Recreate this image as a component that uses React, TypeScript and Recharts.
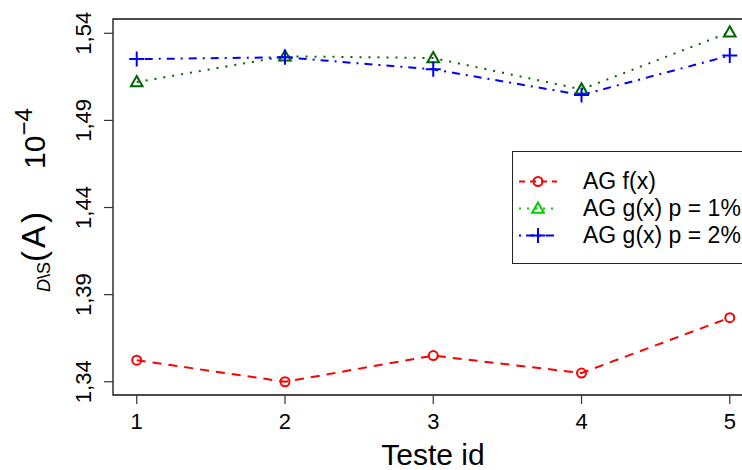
import React from 'react';
import {
  LineChart, Line, XAxis, YAxis, Legend, ReferenceArea,
} from 'recharts';

// Teste id vs DIS(A) (x 10^-4)
const testIds = [1, 2, 3, 4, 5];
const agF = [1.3524, 1.3400, 1.3550, 1.3450, 1.3768];
const agG1 = [1.5120, 1.5268, 1.5258, 1.5078, 1.5406];
const agG2 = [1.5252, 1.5262, 1.5193, 1.5046, 1.5272];
const yTicks = [1.34, 1.39, 1.44, 1.49, 1.54];

const X_DOMAIN: [number, number] = [0.84, 5.16];
const Y_DOMAIN: [number, number] = [1.3324, 1.5482];

const data = testIds.map((id, i) => ({
  id, f: agF[i], g1: agG1[i], g2: agG2[i],
}));

const FONT = '"Liberation Sans", Arial, Helvetica, sans-serif';
const RED = '#ff0000';
const DARKGREEN = '#006400';
const GREEN = '#00cd00';
const BLUE = '#0000ff';

const circle = (cx: number, cy: number, color: string, key?: string | number) => (
  <circle key={key} cx={cx} cy={cy} r={4.5} fill="none" stroke={color} strokeWidth={2} />
);
const triangle = (cx: number, cy: number, color: string, key?: string | number) => (
  <polygon
    key={key}
    points={`${cx - 5.8},${cy + 4.2} ${cx + 5.8},${cy + 4.2} ${cx},${cy - 6}`}
    fill="none" stroke={color} strokeWidth={2}
  />
);
const plus = (cx: number, cy: number, color: string, key?: string | number) => (
  <path key={key} d={`M${cx - 7.5},${cy}H${cx + 7.5}M${cx},${cy - 7.5}V${cy + 7.5}`} stroke={color} strokeWidth={2} />
);

const legendItems = [
  { label: 'AG f(x)', color: RED, dash: '6 5', mark: circle },
  { label: 'AG g(x) p = 1%', color: GREEN, dash: '2 6', mark: triangle },
  { label: 'AG g(x) p = 2%', color: BLUE, dash: '2 5 8 5', mark: plus },
];

const YTick = (props: any) => {
  const { x, y, payload } = props;
  return (
    <text
      transform={`translate(${x - 11},${y}) rotate(-90)`}
      textAnchor="middle" fontFamily={FONT} fontSize={22} fill="#000"
    >
      {String(payload.value.toFixed(2)).replace('.', ',')}
    </text>
  );
};

const XTick = (props: any) => {
  const { x, y, payload } = props;
  return (
    <text x={x} y={y + 23} textAnchor="middle" fontFamily={FONT} fontSize={22} fill="#000">
      {payload.value}
    </text>
  );
};

const LegendBox = () => (
  <div style={{
    boxSizing: 'border-box', width: 250, height: 113, border: '1px solid #222',
    background: '#fff', paddingTop: 16, fontFamily: FONT, fontSize: 23, color: '#000',
  }}>
    {legendItems.map((it) => (
      <div key={it.label} style={{ display: 'flex', alignItems: 'center', height: 27, whiteSpace: 'nowrap' }}>
        <svg width={64} height={27} style={{ marginLeft: 4, flex: 'none' }}>
          <line x1={2} y1={13.5} x2={40} y2={13.5} stroke={it.color} strokeWidth={2} strokeDasharray={it.dash} />
          {it.mark(21, 13.5, it.color)}
        </svg>
        <span style={{ marginLeft: 2 }}>{it.label}</span>
      </div>
    ))}
  </div>
);

export default function App() {
  return (
    <div style={{ position: 'absolute', left: 0, top: 0, width: 742, height: 470, background: '#fff' }}>
      <LineChart
        width={742}
        height={470}
        data={data}
        margin={{ top: 19, right: -11.5, bottom: 0, left: 0 }}
      >
        <XAxis
          dataKey="id" type="number" domain={X_DOMAIN} ticks={testIds}
          allowDataOverflow height={75} axisLine={false}
          tickSize={9} tickLine={{ stroke: '#333', strokeWidth: 1.2 }} tick={<XTick />}
          label={{
            content: () => (
              <text x={433} y={465} textAnchor="middle" fontFamily={FONT} fontSize={30} fill="#000">
                Teste id
              </text>
            ),
          }}
        />
        <YAxis
          type="number" domain={Y_DOMAIN} ticks={yTicks} allowDataOverflow
          width={113} axisLine={false}
          tickSize={9} tickLine={{ stroke: '#333', strokeWidth: 1.2 }} tick={<YTick />}
          label={{
            content: () => (
              <text
                transform="translate(45,292) rotate(-90)"
                fontFamily={FONT} fill="#000" fontSize={30}
              >
                <tspan fontSize={18} fontStyle="italic" dy={5}>D</tspan>
                <tspan fontSize={18}>\S</tspan>
                <tspan fontSize={33} dy={-5} letterSpacing={3}>(A)</tspan>
                <tspan fontSize={30} dx={40}>10</tspan>
                <tspan fontSize={24} dy={-13}>−4</tspan>
              </text>
            ),
          }}
        />
        <ReferenceArea
          x1={X_DOMAIN[0]} x2={X_DOMAIN[1]} y1={Y_DOMAIN[0]} y2={Y_DOMAIN[1]}
          fill="none" fillOpacity={0} stroke="#111" strokeWidth={1.3} ifOverflow="visible"
        />
        <Line
          dataKey="f" stroke={RED} strokeWidth={2} strokeDasharray="9 7"
          isAnimationActive={false}
          dot={(p: any) => circle(p.cx, p.cy, RED, p.index)}
          activeDot={false}
        />
        <Line
          dataKey="g1" stroke={DARKGREEN} strokeWidth={2} strokeDasharray="2 7"
          isAnimationActive={false}
          dot={(p: any) => triangle(p.cx, p.cy, DARKGREEN, p.index)}
          activeDot={false}
        />
        <Line
          dataKey="g2" stroke={BLUE} strokeWidth={2} strokeDasharray="2 6 8 6"
          isAnimationActive={false}
          dot={(p: any) => plus(p.cx, p.cy, BLUE, p.index)}
          activeDot={false}
        />
        <Legend
          layout="vertical" align="center" verticalAlign="middle"
          wrapperStyle={{ left: 512, top: 151, width: 250, height: 113 }}
          content={() => <LegendBox />}
        />
      </LineChart>
    </div>
  );
}
